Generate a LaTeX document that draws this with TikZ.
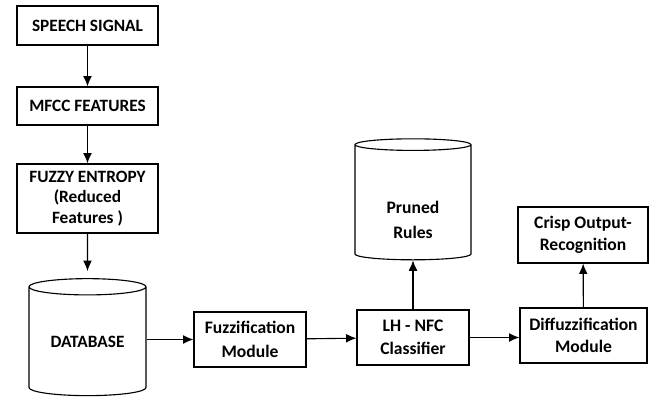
\documentclass[tikz,border=0pt]{standalone}
\usepackage{fontspec}
\setmainfont{Carlito}
\usetikzlibrary{arrows.meta,shapes.geometric}
\tikzset{
  blk/.style={draw,thick,align=center,inner sep=2pt,
              font=\bfseries\fontsize{12.5}{16}\selectfont},
  capblk/.style={blk,font=\bfseries\fontsize{12.3}{14.5}\selectfont},
  store/.style={draw,thick,cylinder,shape border rotate=90,aspect=0.22,
                align=center,inner sep=0pt,
                font=\bfseries\fontsize{12.5}{17.5}\selectfont},
  ar/.style={-{Latex[length=2.6mm,width=2.2mm]},thick},
}
\begin{document}
\begin{tikzpicture}
  \useasboundingbox (0,0) rectangle (16.25,-10);
  % left column
  \node[capblk,minimum width=3.525cm,minimum height=0.975cm] (spch) at (2.1875,-0.6375) {SPEECH SIGNAL};
  \node[capblk,minimum width=3.525cm,minimum height=0.95cm] (mfcc) at (2.1875,-2.65) {MFCC FEATURES};
  \node[capblk,minimum width=3.525cm,minimum height=1.725cm] (entr) at (2.1875,-4.9625) {FUZZY ENTROPY\\(Reduced\\Features )};
  \node[store,minimum width=2.925cm,minimum height=2.925cm,
        font=\bfseries\fontsize{12.3}{14.5}\selectfont] (db) at (2.1875,-8.5375) {DATABASE};
  % bottom row
  \node[blk,minimum width=2.8cm,minimum height=1.375cm,
        font=\bfseries\fontsize{12.5}{17.5}\selectfont] (fuzz) at (6.25,-8.4875) {Fuzzification\\Module};
  \node[blk,minimum width=2.8cm,minimum height=1.375cm] (nfc) at (10.325,-8.4375) {LH - NFC\\Classifier};
  \node[store,minimum width=2.9cm,minimum height=3.025cm,text height=51pt] (rules) at (10.325,-5.0625) {Pruned\\Rules};
  \node[blk,minimum width=3.175cm,minimum height=1.375cm] (dfz) at (14.5875,-8.3875) {Diffuzzification\\Module};
  \node[blk,minimum width=3.25cm,minimum height=1.4cm] (crisp) at (14.575,-5.875) {Crisp Output-\\Recognition};
  % connectors
  \draw[ar] (spch) -- (mfcc);
  \draw[ar] (mfcc) -- (entr);
  \draw[ar,shorten >=5pt] (entr) -- (db.north);
  \draw[ar] (db.east |- fuzz.west) -- (fuzz.west);
  \draw[ar] (fuzz) -- (nfc);
  \draw[ar] (nfc) -- (rules);
  \draw[ar] (nfc) -- (nfc -| dfz.west);
  \draw[ar] (dfz) -- (crisp);
\end{tikzpicture}
\end{document}
